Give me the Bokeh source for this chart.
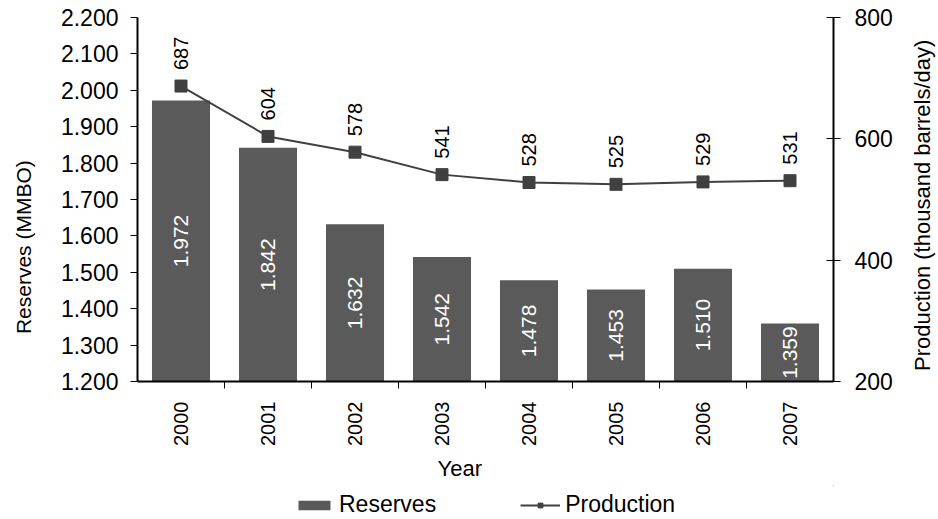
import math
from bokeh.plotting import figure
from bokeh.layouts import gridplot
from bokeh.models import (Range1d, LinearAxis, FixedTicker, ColumnDataSource,
                          Legend, LegendItem, Title)
from bokeh.core.properties import value
from bokeh.embed import file_html
from bokeh.resources import INLINE

years = ["2000", "2001", "2002", "2003", "2004", "2005", "2006", "2007"]
reserves = [1.972, 1.842, 1.632, 1.542, 1.478, 1.453, 1.510, 1.359]
production = [687, 604, 578, 541, 528, 525, 529, 531]
reserve_ticks = [1.2, 1.3, 1.4, 1.5, 1.6, 1.7, 1.8, 1.9, 2.0, 2.1, 2.2]
production_ticks = [200, 400, 600, 800]
left_title = "Reserves (MMBO)"
right_title = "Production (thousand barrels/day)"
x_title = "Year"

FONT = "Liberation Sans"
BAR = "#5a5a5a"
LINE = "#404040"

xc = [i + 0.5 for i in range(len(years))]
src = ColumnDataSource(dict(
    x=xc, years=years, reserves=reserves, production=production,
    bottom=[1.2] * len(years),
    mid=[(1.2 + r) / 2 for r in reserves],
    rlab=["%.3f" % r for r in reserves],
    plab=[str(v) for v in production],
))

# ---------------- main chart ----------------
p = figure(width=868, height=485, output_backend="svg", toolbar_location=None,
           x_range=Range1d(0, len(years)), y_range=Range1d(1.2, 2.2),
           min_border_left=100, min_border_right=72, min_border_top=17,
           min_border_bottom=102)
p.extra_y_ranges = {"prod": Range1d(200, 800)}
p.outline_line_color = None
p.xgrid.visible = False
p.ygrid.visible = False
p.background_fill_color = "white"
p.border_fill_color = "white"

p.vbar(x="x", top="reserves", bottom="bottom", width=0.667, source=src,
       fill_color=BAR, line_color=None)
p.text(x="x", y="mid", text="rlab", source=src, angle=math.pi / 2,
       text_align="center", text_baseline="middle", text_color="white",
       text_font=value(FONT), text_font_size="21px")

p.line(x="x", y="production", source=src, y_range_name="prod",
       line_color=LINE, line_width=2)
p.scatter(x="x", y="production", source=src, y_range_name="prod",
          marker="square", size=12, fill_color=LINE, line_color=LINE)
p.text(x="x", y="production", text="plab", source=src, y_range_name="prod",
       angle=math.pi / 2, text_align="left", text_baseline="middle",
       x_offset=0, y_offset=-16, text_color="black",
       text_font=value(FONT), text_font_size="20px")

# x axis
xa = p.xaxis[0]
xa.ticker = FixedTicker(ticks=xc, minor_ticks=list(range(1, len(years))))
xa.major_label_overrides = {x: y for x, y in zip(xc, years)}
xa.major_label_orientation = math.pi / 2
xa.major_tick_out = 0
xa.major_tick_in = 0
xa.minor_tick_out = 7
xa.minor_tick_in = 0
xa.minor_tick_line_color = "black"
xa.major_label_standoff = 13
xa.axis_line_color = "black"
xa.axis_line_width = 2
xa.major_label_text_font_size = "20px"

# left axis
ya = p.yaxis[0]
ya.ticker = FixedTicker(ticks=reserve_ticks, minor_ticks=[])
ya.major_label_overrides = {t: "%.3f" % t for t in reserve_ticks}
ya.major_tick_out = 7
ya.major_tick_in = 0
ya.major_label_standoff = 12
ya.axis_line_width = 2
ya.major_label_text_font_size = "23px"

# right axis
ra = LinearAxis(y_range_name="prod",
                ticker=FixedTicker(ticks=production_ticks, minor_ticks=[]))
ra.major_tick_out = 7
ra.major_tick_in = 7
ra.major_label_standoff = 14
ra.axis_line_width = 2
ra.major_label_text_font_size = "23px"
p.add_layout(ra, "right")

for ax in (xa, ya, ra):
    ax.major_label_text_font = FONT
    ax.major_label_text_color = "black"
    ax.major_tick_line_color = "black"

t_below = Title(text=x_title, align="left", offset=300,
                text_font=FONT, text_font_size="22px",
                text_font_style="normal", text_color="black")
p.add_layout(t_below, "below")


# ---------------- side strips for the vertical axis titles ----------------
def strip(width, height):
    s = figure(width=width, height=height, output_backend="svg",
               toolbar_location=None, x_range=Range1d(0, 1),
               y_range=Range1d(0, 1), x_axis_location=None,
               y_axis_location=None, min_border=0)
    s.outline_line_color = None
    s.xgrid.visible = False
    s.ygrid.visible = False
    s.background_fill_color = "white"
    s.border_fill_color = "white"
    return s


ls = strip(37, 485)
ls.text(x=[0.62], y=[0.369], text=[left_title], angle=math.pi / 2,
        text_align="center", text_baseline="middle", text_color="black",
        text_font=value(FONT), text_font_size="21px")

rs = strip(33, 485)
rs.text(x=[0.52], y=[0.484], text=[right_title], angle=math.pi / 2,
        text_align="center", text_baseline="middle", text_color="black",
        text_font=value(FONT), text_font_size="22px")

# ---------------- legend strip ----------------
lg = figure(width=868, height=34, output_backend="svg", toolbar_location=None,
            x_range=Range1d(-20, -19), y_range=Range1d(-20, -19),
            x_axis_location=None, y_axis_location=None, min_border=0)
lg.outline_line_color = None
lg.xgrid.visible = False
lg.ygrid.visible = False
lg_bar = lg.vbar(x="x", top="reserves", bottom="bottom", width=0.667,
                 source=src, fill_color=BAR, line_color=None)
lg_ln = lg.line(x="x", y="production", source=src, line_color=LINE,
                line_width=2)
lg_mk = lg.scatter(x="x", y="production", source=src, marker="square",
                   size=12, fill_color=LINE, line_color=LINE)
legend = Legend(items=[LegendItem(label="Reserves", renderers=[lg_bar]),
                       LegendItem(label="Production", renderers=[lg_ln, lg_mk])],
                orientation="horizontal", location=(157, 1),
                border_line_color=None, background_fill_alpha=0,
                label_text_font=FONT, label_text_font_size="23px",
                label_text_color="black",
                glyph_width=40, glyph_height=12, spacing=84,
                label_standoff=5, padding=2, margin=0)
lg.add_layout(legend)

grid = gridplot([[ls, p, rs], [None, lg, None]], toolbar_location=None)
open("out.html", "w").write(file_html(grid, INLINE))
